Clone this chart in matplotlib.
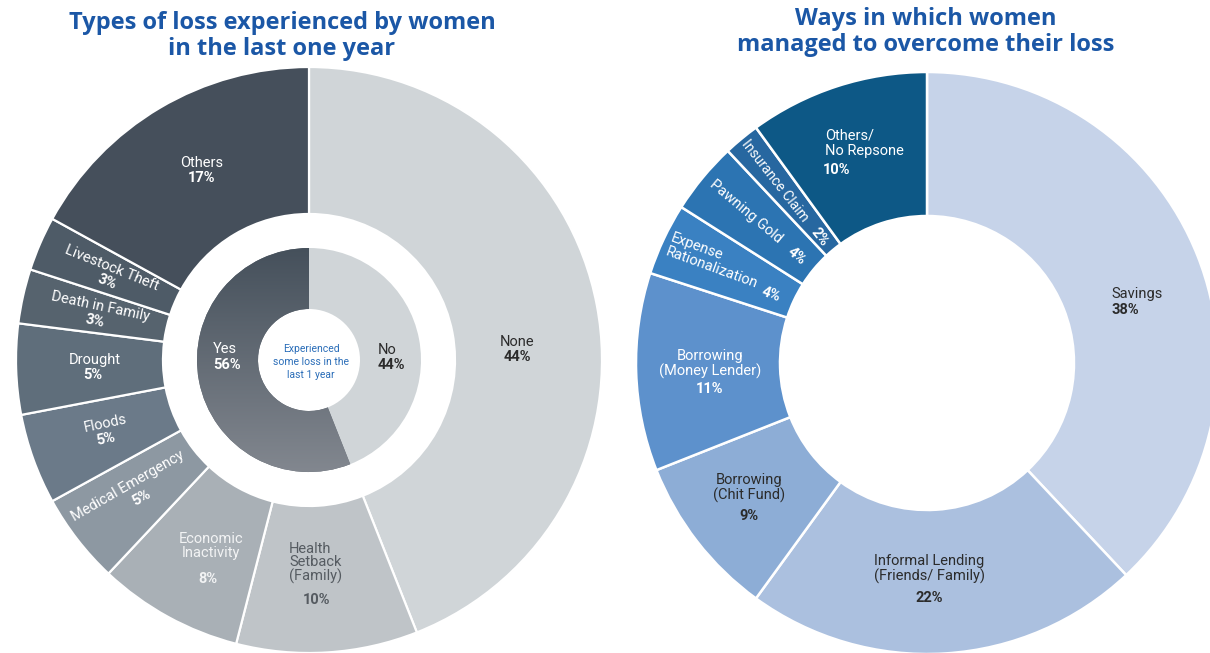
import numpy as np
import matplotlib.pyplot as plt
from matplotlib.colors import LinearSegmentedColormap

W, H = 1210, 653

# data
loss_types = ['None', 'Health Setback (Family)', 'Economic Inactivity', 'Medical Emergency',
              'Floods', 'Drought', 'Death in Family', 'Livestock Theft', 'Others']
loss_pct = [44, 10, 8, 5, 5, 5, 3, 3, 17]

any_loss = ['No', 'Yes']
any_loss_pct = [44, 56]

ways = ['Savings', 'Informal Lending (Friends/ Family)', 'Borrowing (Chit Fund)',
        'Borrowing (Money Lender)', 'Expense Rationalization', 'Pawning Gold',
        'Insurance Claim', 'Others/ No Repsone']
ways_pct = [38, 22, 9, 11, 4, 4, 2, 10]

# colours
loss_colors = ['#d0d5d8', '#bfc4c8', '#a9b0b6', '#8d98a2', '#6b7a89',
               '#5f6e7b', '#56636e', '#4e5b67', '#454f5b']
any_colors = ['#d0d5d8', '#5e6670']
ways_colors = ['#c6d3e9', '#abc0df', '#8dadd6', '#5d91cc', '#3a81c2',
               '#2c74b2', '#2767a0', '#0d5886']

TITLE = '#1b57a6'
DARK = '#2b2b2b'
WHITE = '#ffffff'

plt.rcParams['font.family'] = ['Roboto', 'DejaVu Sans']

fig = plt.figure(figsize=(W / 100, H / 100), dpi=100)
ax = fig.add_axes([0, 0, 1, 1])

def P(x, y):
    # image pixel coords (y from top) -> data coords
    return x, H - y

# left chart
lc = P(309, 360)
outer, _ = ax.pie(loss_pct, colors=loss_colors, startangle=90, counterclock=False,
                  radius=293, center=lc,
                  wedgeprops=dict(width=147, edgecolor='white', linewidth=1.6))
inner, _ = ax.pie(any_loss_pct, colors=any_colors, startangle=90, counterclock=False,
                  radius=112, center=lc,
                  wedgeprops=dict(width=61, edgecolor='none', linewidth=0))

# gradient fill on the "Yes" slice
grad = np.linspace(0, 1, 256).reshape(-1, 1)
cmap = LinearSegmentedColormap.from_list('yes', ['#45505b', '#82878f'])
im = ax.imshow(grad, cmap=cmap, origin='upper', aspect='auto', zorder=3,
               extent=[lc[0] - 112, lc[0] + 112, lc[1] - 112, lc[1] + 112])
im.set_clip_path(inner[1])

# right chart
rc = P(927, 363)
ax.pie(ways_pct, colors=ways_colors, startangle=90, counterclock=False,
       radius=291, center=rc,
       wedgeprops=dict(width=144, edgecolor='white', linewidth=1.8))

ax.set_xlim(0, W)
ax.set_ylim(0, H)
ax.axis('off')


def put(x, y, s, size=10.5, color=WHITE, weight='normal', rot=0, ha='center',
        ma=None, ls=1.1, family=None):
    ax.text(*P(x, y), s, fontsize=size, color=color, fontweight=weight, rotation=rot,
            ha=ha, va='center', linespacing=ls, multialignment=ma or ha, zorder=5,
            family=family)


def pct(v):
    return f'{v}%'

# titles
tfont = ['Open Sans', 'DejaVu Sans']
put(282, 36, 'Types of loss experienced by women\nin the last one year',
    size=17, color=TITLE, weight='bold', ls=1.1, family=tfont)
put(926, 32, 'Ways in which women\nmanaged to overcome their loss',
    size=17, color=TITLE, weight='bold', ls=1.1, family=tfont)

# left outer labels
put(517, 342, 'None', color=DARK); put(517, 357, pct(loss_pct[0]), color=DARK, weight='bold')
put(289, 563, 'Health\nSetback\n(Family)', color='#555b61', ha='left', ls=0.95)
put(317, 600, pct(loss_pct[1]), color='#555b61', weight='bold')
put(211, 546, 'Economic\nInactivity', color='#f2f3f4', ls=1.0)
put(208, 579, pct(loss_pct[2]), color='#f2f3f4', weight='bold')
put(128, 486, 'Medical Emergency', rot=30); put(141, 498, pct(loss_pct[3]), weight='bold', rot=30)
put(105, 424, 'Floods', rot=12); put(106, 439, pct(loss_pct[4]), weight='bold', rot=12)
put(95, 360, 'Drought'); put(93, 375, pct(loss_pct[5]), weight='bold')
put(100, 307, 'Death in Family', rot=-12); put(95, 321, pct(loss_pct[6]), weight='bold', rot=-12)
put(112, 268, 'Livestock Theft', rot=-22); put(107, 282, pct(loss_pct[7]), weight='bold', rot=-22)
put(202, 163, 'Others'); put(202, 178, pct(loss_pct[8]), weight='bold')

# left inner labels
put(378, 350, 'No', color=DARK, ha='left')
put(378, 365, pct(any_loss_pct[0]), color=DARK, weight='bold', ha='left')
put(213, 349, 'Yes', ha='left')
put(213, 365, pct(any_loss_pct[1]), weight='bold', ha='left')
put(311, 362, 'Experienced\nsome loss in the\nlast 1 year', size=7.5, color='#2a6db8', ls=1.35)

# right labels
put(1111, 294, 'Savings', color=DARK, ha='left')
put(1111, 310, pct(ways_pct[0]), color=DARK, weight='bold', ha='left')
put(929, 569, 'Informal Lending\n(Friends/ Family)', color=DARK)
put(929, 598, pct(ways_pct[1]), color=DARK, weight='bold')
put(749, 488, 'Borrowing\n(Chit Fund)', color=DARK)
put(749, 516, pct(ways_pct[2]), color=DARK, weight='bold')
put(710, 364, 'Borrowing\n(Money Lender)')
put(710, 389, pct(ways_pct[3]), weight='bold')
put(714, 261, 'Expense\nRationalization', rot=-20, ma='left', ls=1.0)
put(771, 295, pct(ways_pct[4]), weight='bold', rot=-20)
put(746, 212, 'Pawning Gold', rot=-40)
put(797, 256, pct(ways_pct[5]), weight='bold', rot=-40)
put(775, 181, 'Insurance Claim', size=10, rot=-52)
put(820, 237, pct(ways_pct[6]), weight='bold', rot=-52)
put(825, 143, 'Others/\nNo Repsone', ha='left')
put(823, 170, pct(ways_pct[7]), weight='bold', ha='left')

fig.savefig('out.png', dpi=100, facecolor='white')
